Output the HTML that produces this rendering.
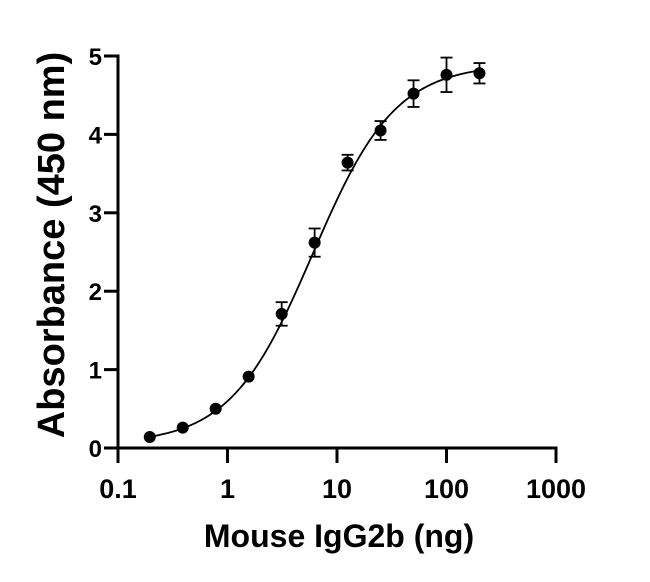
<!DOCTYPE html>
<html><head><meta charset="utf-8"><style>body{margin:0;background:#fff}svg{display:block;font-family:"Liberation Sans",Arial,sans-serif;font-weight:bold}</style></head>
<body>
<svg id="chart" width="650" height="582" viewBox="0 0 650 582" xmlns="http://www.w3.org/2000/svg"></svg>
<script>
const xValues=[0.195,0.39,0.78,1.56,3.125,6.25,12.5,25,50,100,200];
const yValues=[0.14,0.26,0.50,0.91,1.71,2.62,3.64,4.05,4.52,4.76,4.78];
const yErrors=[0,0,0,0,0.15,0.18,0.10,0.12,0.17,0.22,0.13];
const xTicks=[0.1,1,10,100,1000];
const xTickLabels=["0.1","1","10","100","1000"];
const yTicks=[0,1,2,3,4,5];
const fitParams=[0.05,4.9,6,1.15];
const NS="http://www.w3.org/2000/svg";
const svg=document.getElementById('chart');
const X0=118,X1=556,Y0=448,Y1=56;
function xs(v){return X0+(Math.log10(v)+1)/4*(X1-X0);}
function ys(v){return Y0-v/5*(Y0-Y1);}
function mk(tag,attrs,parent){const el=document.createElementNS(NS,tag);for(const k in attrs)el.setAttribute(k,attrs[k]);(parent||svg).appendChild(el);return el;}
let e;
e=mk('line',{x1:X0-1.5,y1:Y0,x2:X1+1.5,y2:Y0,stroke:'#000','stroke-width':3});


e=mk('line',{x1:X0,y1:Y0,x2:X0,y2:Y1-1.5,stroke:'#000','stroke-width':3});


xTicks.forEach((t,i)=>{
 e=mk('line',{x1:xs(t),y1:Y0,x2:xs(t),y2:Y0+15,stroke:'#000','stroke-width':3});
 
 
 e=mk('text',{x:xs(t),y:498,'text-anchor':'middle','font-size':27});
 e.textContent=xTickLabels[i];
 
 
});
yTicks.forEach(t=>{
 e=mk('line',{x1:X0,y1:ys(t),x2:X0-14,y2:ys(t),stroke:'#000','stroke-width':3});
 
 
 e=mk('text',{x:102,y:ys(t)+9,'text-anchor':'end','font-size':24});
 e.textContent=t;
 
 
});
const pBottom=fitParams[0],pTop=fitParams[1],pEc50=fitParams[2],pHill=fitParams[3];
let d='';
const lx0=Math.log10(xValues[0]),lx1=Math.log10(xValues[xValues.length-1]);
for(let i=0;i<=200;i++){const x=Math.pow(10,lx0+i/200*(lx1-lx0));const r=Math.pow(x/pEc50,pHill);const y=pBottom+(pTop-pBottom)*r/(1+r);d+=(i?'L':'M')+xs(x).toFixed(2)+' '+ys(y).toFixed(2);}
e=mk('path',{d:d,fill:'none',stroke:'#000','stroke-width':1.8});


xValues.forEach((x,i)=>{
 const cx=xs(x),y=yValues[i],er=yErrors[i];
 if(er>0){
  const g=mk('g',{stroke:'#000','stroke-width':1.8});
  
  
  mk('line',{x1:cx,y1:ys(y-er),x2:cx,y2:ys(y+er)},g);
  mk('line',{x1:cx-6,y1:ys(y-er),x2:cx+6,y2:ys(y-er)},g);
  mk('line',{x1:cx-6,y1:ys(y+er),x2:cx+6,y2:ys(y+er)},g);
 }
 e=mk('circle',{cx:cx,cy:ys(y),r:6,fill:'#000'});
 
 
});
e=mk('text',{x:339,y:547,'text-anchor':'middle','font-size':32});
e.textContent='Mouse IgG2b (ng)';


e=mk('text',{x:0,y:0,'text-anchor':'middle','font-size':38,transform:'translate(64 245) rotate(-90)'});
e.textContent='Absorbance (450 nm)';


</script>
</body></html>
